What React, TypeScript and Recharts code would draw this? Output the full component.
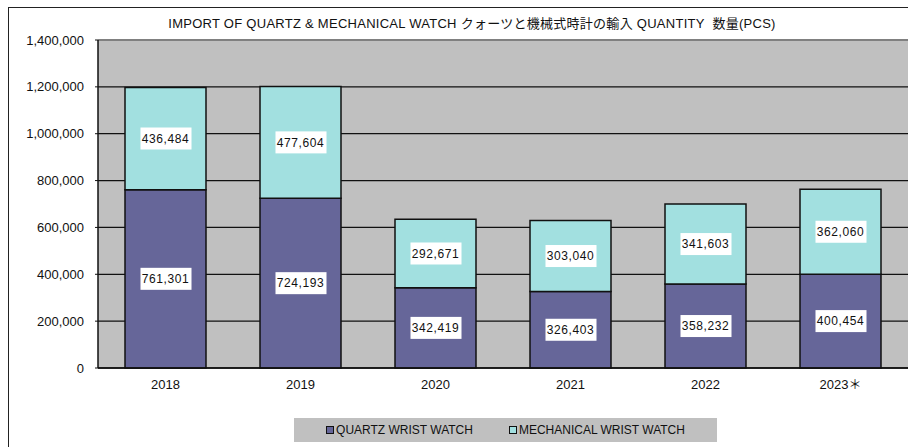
import React from 'react'
import { BarChart, Bar, XAxis, YAxis, CartesianGrid, LabelList, ReferenceLine } from 'recharts'

const years = ['2018', '2019', '2020', '2021', '2022', '2023＊']
const quartz = [761301, 724193, 342419, 326403, 358232, 400454]
const mechanical = [436484, 477604, 292671, 303040, 341603, 362060]
const yTicks = [0, 200000, 400000, 600000, 800000, 1000000, 1200000, 1400000]
const seriesNames = ['QUARTZ WRIST WATCH', 'MECHANICAL WRIST WATCH']
const colors = ['#666699', '#a2e0e0']

const data = years.map((y, i) => ({ year: y, quartz: quartz[i], mechanical: mechanical[i] }))

const fmt = (n: number) => n.toLocaleString('en-US')
const font = 'Arial, "Liberation Sans", "Noto Sans CJK JP", sans-serif'

function BoxLabel(props: any) {
  const { x, y, width, height, value } = props
  const cx = x + width / 2
  const cy = y + height / 2
  return (
    <g>
      <rect x={cx - 25} y={cy - 11} width={51} height={22} fill="#fff" />
      <text x={cx} y={cy + 1} textAnchor="middle" dominantBaseline="middle" fontSize={12} fontFamily={font} fill="#111" letterSpacing={0.6}>
        {fmt(value)}
      </text>
    </g>
  )
}

export default function App() {
  return (
    <div style={{ position: 'absolute', left: 0, top: 0, width: 908, height: 447, overflow: 'hidden', background: '#fff', fontFamily: font }}>
      <div style={{ position: 'absolute', left: 8, top: 7, width: 920, height: 460, border: '1.5px solid #222' }} />
      <div style={{ position: 'absolute', left: 0, top: 13, width: 944, textAlign: 'center', fontSize: 13, letterSpacing: 0.27, color: '#111', whiteSpace: 'nowrap' }}>
        IMPORT OF QUARTZ &amp; MECHANICAL WATCH クォーツと機械式時計の輸入 QUANTITY&nbsp; 数量(PCS)
      </div>
      <div style={{ position: 'absolute', left: 0, top: 0 }}>
        <BarChart width={908} height={447} data={data} margin={{ top: 40, right: 0, left: 0, bottom: 50 }} barSize={81}>
          <CartesianGrid vertical={false} stroke="#111" strokeWidth={1.3} fill="#c0c0c0" fillOpacity={1} />
          <ReferenceLine y={1400000} stroke="#808080" strokeWidth={2} />
          <XAxis dataKey="year" axisLine={{ stroke: '#111', strokeWidth: 1.5 }} tickLine={false} height={29}
            tick={{ fontSize: 13, fill: '#111', fontFamily: font }} tickMargin={6} />
          <YAxis width={98} domain={[0, 1400000]} ticks={yTicks} tickFormatter={fmt} interval={0}
            axisLine={{ stroke: '#111', strokeWidth: 1.5 }} tickLine={{ stroke: '#111' }} tickSize={3} tickMargin={11}
            tick={{ fontSize: 13, fill: '#111', fontFamily: font }} />
          <Bar dataKey="quartz" name={seriesNames[0]} stackId="a" fill={colors[0]} stroke="#111" strokeWidth={1.5} isAnimationActive={false}>
            <LabelList dataKey="quartz" content={BoxLabel} />
          </Bar>
          <Bar dataKey="mechanical" name={seriesNames[1]} stackId="a" fill={colors[1]} stroke="#111" strokeWidth={1.5} isAnimationActive={false}>
            <LabelList dataKey="mechanical" content={BoxLabel} />
          </Bar>
        </BarChart>
      </div>
      <div style={{ position: 'absolute', left: 294, top: 418, width: 423, height: 24, background: '#c0c0c0', display: 'flex', alignItems: 'center', justifyContent: 'center', gap: 36, fontSize: 12, color: '#111' }}>
        {seriesNames.map((n, i) => (
          <span key={n} style={{ display: 'flex', alignItems: 'center' }}>
            <span style={{ width: 6, height: 6, background: colors[i], border: '1px solid #111', marginRight: 2, display: 'inline-block' }} />
            {n}
          </span>
        ))}
      </div>
    </div>
  )
}
